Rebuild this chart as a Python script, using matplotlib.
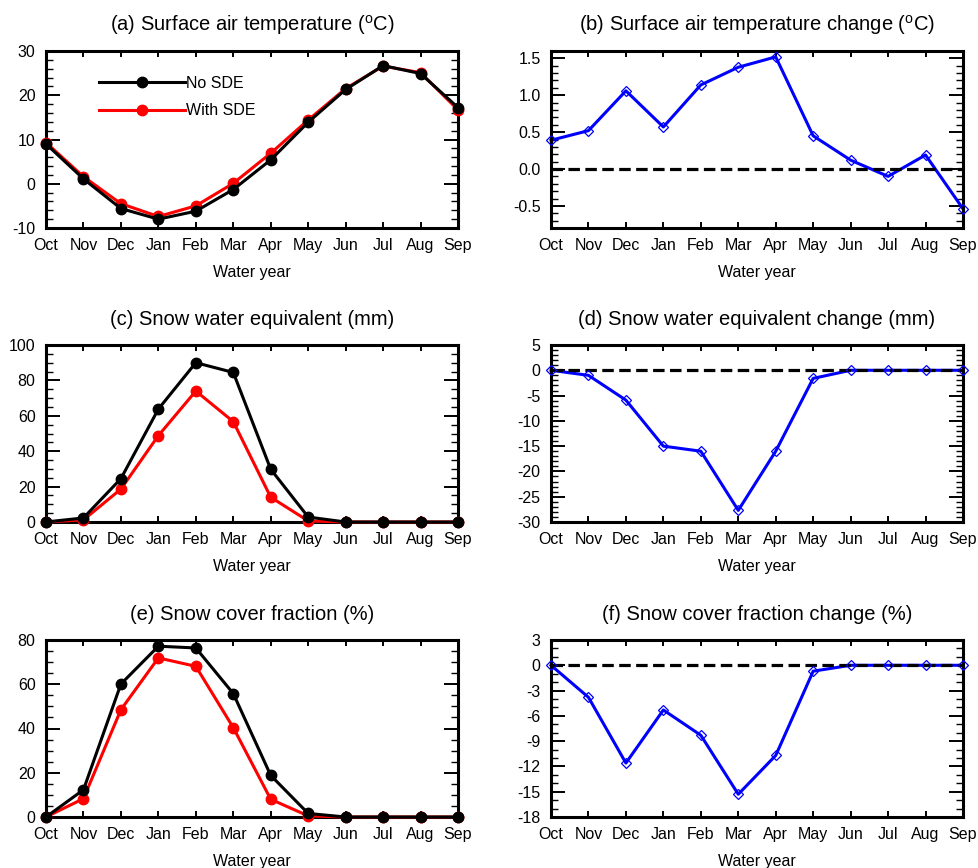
import matplotlib
matplotlib.use("Agg")
import matplotlib.pyplot as plt
from matplotlib.ticker import MultipleLocator
import numpy as np

plt.rcParams['font.family'] = ['Liberation Sans', 'DejaVu Sans']
plt.rcParams['mathtext.fontset'] = 'custom'
plt.rcParams['mathtext.rm'] = 'Liberation Sans'
plt.rcParams['axes.unicode_minus'] = False

months = ['Oct', 'Nov', 'Dec', 'Jan', 'Feb', 'Mar', 'Apr', 'May', 'Jun', 'Jul', 'Aug', 'Sep']

# (a) Surface air temperature (degC)
tas_no_sde = [9.0, 1.1, -5.6, -8.0, -6.2, -1.3, 5.4, 13.9, 21.3, 26.7, 24.9, 17.2]
tas_with_sde = [9.3, 1.6, -4.5, -7.4, -5.0, 0.1, 6.9, 14.4, 21.5, 26.6, 25.1, 16.7]
# (b) Surface air temperature change
tas_change = [0.39, 0.52, 1.06, 0.57, 1.14, 1.38, 1.52, 0.45, 0.12, -0.10, 0.19, -0.54]
# (c) Snow water equivalent (mm)
swe_no_sde = [0.0, 2.3, 24.5, 63.8, 90.0, 84.5, 29.8, 2.8, 0.0, 0.0, 0.0, 0.0]
swe_with_sde = [0.0, 1.2, 18.6, 48.8, 74.0, 56.7, 14.0, 0.6, 0.0, 0.0, 0.0, 0.0]
# (d) Snow water equivalent change
swe_change = [0.0, -1.0, -5.9, -15.0, -16.0, -27.7, -16.0, -1.6, 0.0, 0.0, 0.0, 0.0]
# (e) Snow cover fraction (%)
scf_no_sde = [0.0, 12.3, 60.1, 77.2, 76.4, 55.8, 18.8, 1.6, 0.0, 0.0, 0.0, 0.0]
scf_with_sde = [0.0, 8.3, 48.5, 71.9, 68.1, 40.4, 8.0, 0.5, 0.0, 0.0, 0.0, 0.0]
# (f) Snow cover fraction change
scf_change = [0.0, -3.8, -11.6, -5.3, -8.3, -15.3, -10.7, -0.7, 0.0, 0.0, 0.0, 0.0]

x = np.arange(len(months))

fig = plt.figure(figsize=(9.79, 8.68), dpi=100)
W, H = 979.0, 868.0
cols = [46, 551]
rows = [(51, 228), (345, 522), (640, 817)]
aw = 412

FS_TICK = 11.5
FS_TITLE = 14.5

def make_ax(col, row):
    l = cols[col]
    t, b = rows[row]
    return fig.add_axes([l / W, 1 - b / H, aw / W, (b - t) / H])

def style(ax, ylim, major, minor, title, fmt=None):
    ax.set_xlim(0, 11)
    ax.set_ylim(*ylim)
    ax.set_xticks(x)
    ax.set_xticklabels(months)
    ax.yaxis.set_major_locator(MultipleLocator(major))
    ax.yaxis.set_minor_locator(MultipleLocator(minor))
    if fmt:
        ax.yaxis.set_major_formatter(plt.FormatStrFormatter(fmt))
    for s in ax.spines.values():
        s.set_linewidth(2.2)
    ax.tick_params(axis='x', which='major', direction='in', top=True, bottom=True,
                   length=4.5, width=1.4, labelsize=FS_TICK, pad=7.5)
    ax.tick_params(axis='y', which='major', direction='in', left=True, right=True,
                   length=10, width=1.4, labelsize=FS_TICK, pad=7.5)
    ax.tick_params(axis='y', which='minor', direction='in', left=True, right=True,
                   length=5, width=1.0)
    ax.tick_params(axis='x', which='minor', bottom=False, top=False)
    ax.set_xlabel('Water year', fontsize=FS_TICK, labelpad=8.5)
    ax.set_title(title, fontsize=FS_TITLE, pad=14.5)

def pair(ax, a, b):
    ax.plot(x, b, color='red', lw=2.2, marker='o', ms=7.5, clip_on=False, zorder=3, label='With SDE')
    ax.plot(x, a, color='black', lw=2.2, marker='o', ms=7.5, clip_on=False, zorder=4, label='No SDE')

def change(ax, d):
    ax.plot(x, d, color='blue', lw=2.2, clip_on=False, zorder=2)
    ax.axhline(0, color='black', lw=2.3, dashes=(3.6, 1.7), zorder=3)
    ax.plot(x, d, linestyle='none', marker='D', ms=5.3, mfc='none', mec='blue', mew=0.9,
            clip_on=False, zorder=4)

ax = make_ax(0, 0)
pair(ax, tas_no_sde, tas_with_sde)
style(ax, (-10, 30), 10, 2, r'(a) Surface air temperature ($^{\rm o}$C)')
h, l = ax.get_legend_handles_labels()
ax.legend([h[1], h[0]], [l[1], l[0]], loc='center left', bbox_to_anchor=(0.129, 0.74),
          frameon=False, fontsize=FS_TICK, handlelength=5.4, handletextpad=0.05,
          borderpad=0, borderaxespad=0, labelspacing=0.8)

ax = make_ax(1, 0)
change(ax, tas_change)
style(ax, (-0.8, 1.6), 0.5, 0.1, r'(b) Surface air temperature change ($^{\rm o}$C)', '%.1f')

ax = make_ax(0, 1)
pair(ax, swe_no_sde, swe_with_sde)
style(ax, (0, 100), 20, 5, '(c) Snow water equivalent (mm)')

ax = make_ax(1, 1)
change(ax, swe_change)
style(ax, (-30, 5), 5, 1, '(d) Snow water equivalent change (mm)')

ax = make_ax(0, 2)
pair(ax, scf_no_sde, scf_with_sde)
style(ax, (0, 80), 20, 5, '(e) Snow cover fraction (%)')

ax = make_ax(1, 2)
change(ax, scf_change)
style(ax, (-18, 3), 3, 1, '(f) Snow cover fraction change (%)')

fig.savefig('out.png', dpi=100)
